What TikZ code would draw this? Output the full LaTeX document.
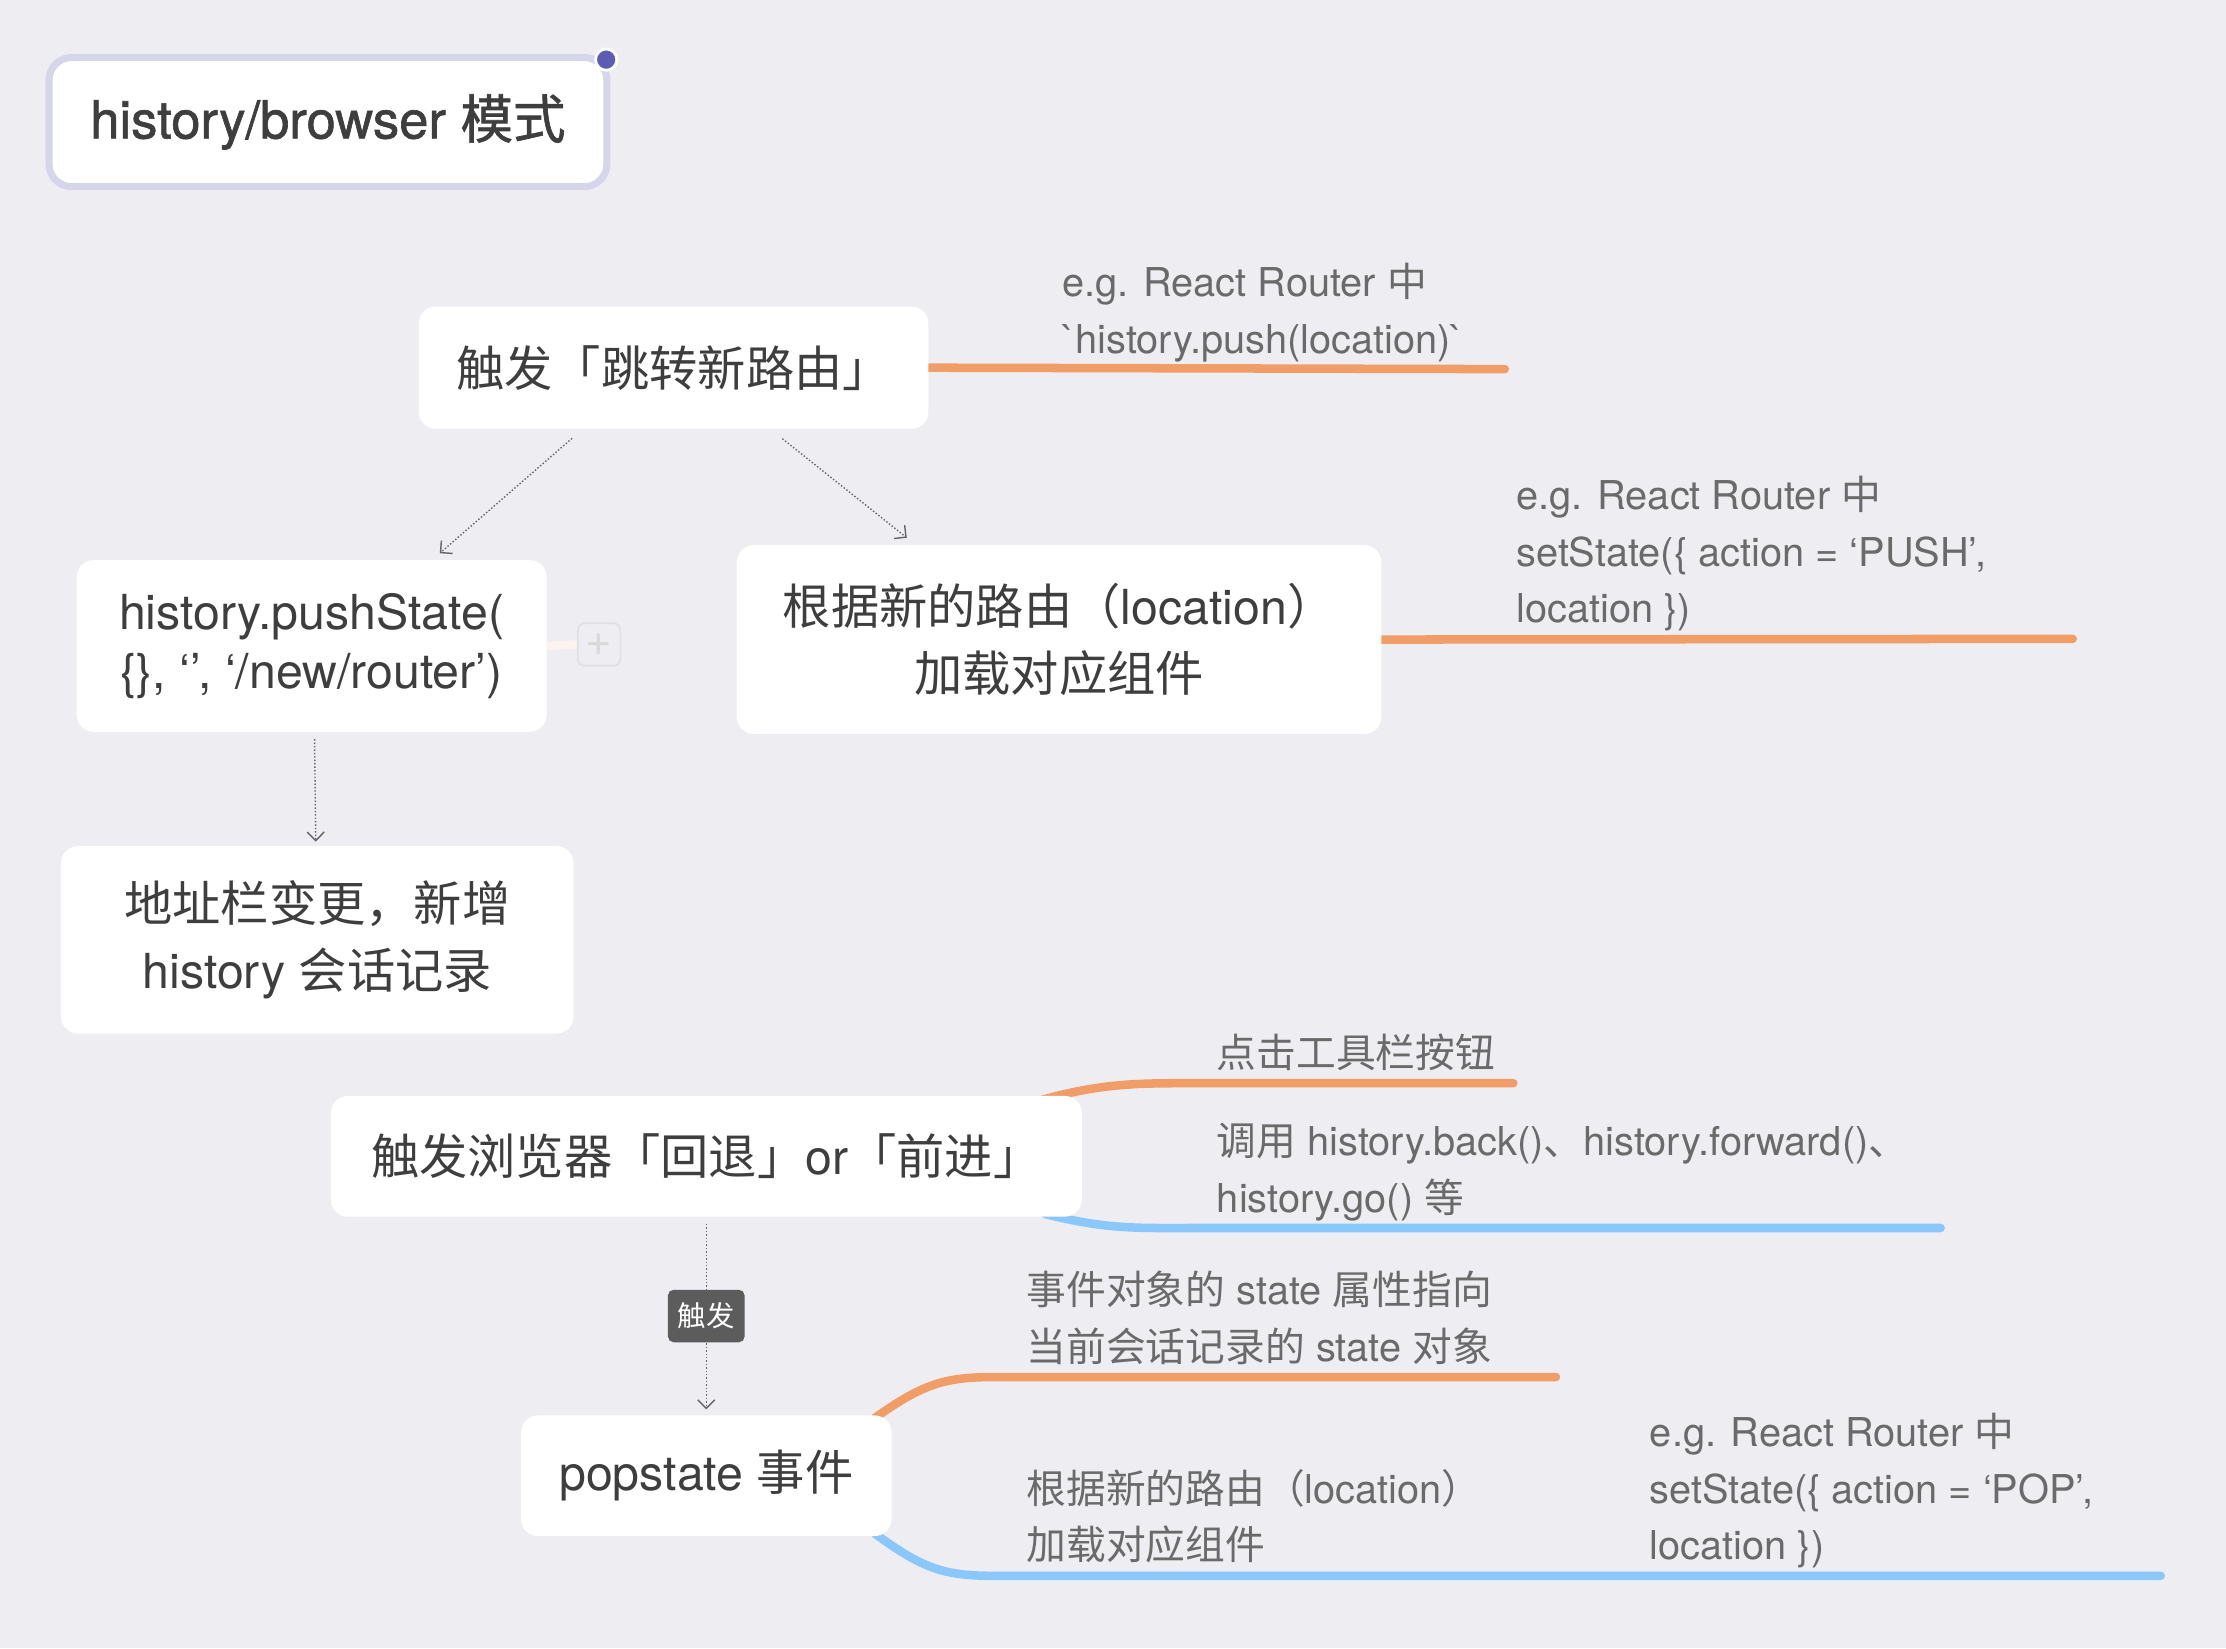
\documentclass[tikz,border=0pt]{standalone}
\usepackage{fontspec}
\setmainfont{TeX Gyre Heros}
\newfontfamily\cjk{Noto Sans CJK SC}
\newfontfamily\titlefont{TeX Gyre Heros}[FakeBold=1.2]
\newfontfamily\titlecjk{Noto Sans CJK SC}[FakeBold=1.2]
\newcommand{\zh}[1]{{\cjk #1}}
\usetikzlibrary{arrows.meta, positioning}
\definecolor{bgcolor}{HTML}{EEEDF2}
\definecolor{topictext}{HTML}{3E3E3E}
\definecolor{labeltext}{HTML}{6A6A6A}
\definecolor{titleborder}{HTML}{D6D6EA}
\definecolor{titledot}{HTML}{5C5CB2}
\definecolor{branchorange}{HTML}{F19D68}
\definecolor{branchblue}{HTML}{8AC7FA}
\definecolor{arrowgray}{HTML}{666666}
\definecolor{tagfill}{HTML}{5C5C5C}
\def\cornerradius{12pt}
\def\branchwidth{6pt}
\def\topicfont{\fontsize{34}{47}\selectfont}
\def\labelfont{\fontsize{28}{40}\selectfont}
\pgfdeclarelayer{backdrop}
\pgfdeclarelayer{branches}
\pgfsetlayers{backdrop,branches,main}
\tikzset{
	% topics
	topic/.style={
		shape=rectangle,
		fill=white,
		rounded corners=\cornerradius,
		align=center,
		text=topictext,
		font=\topicfont,
		inner sep=0pt,
	},
	% central title
	title/.style={
		topic,
		draw=titleborder,
		line width=5pt,
		rounded corners=16pt,
		font=\fontsize{37}{42}\selectfont\titlefont,
	},
	title_dot/.style={
		shape=circle,
		fill=titledot,
		draw=white,
		line width=2pt,
		minimum size=15pt,
		inner sep=0pt,
	},
	% branch labels
	label/.style={
		align=left,
		text=labeltext,
		font=\labelfont,
		inner sep=0pt,
		anchor=south west,
	},
	% branches
	orange_branch/.style={
		draw=branchorange,
		line width=\branchwidth,
		line cap=round,
	},
	blue_branch/.style={
		draw=branchblue,
		line width=\branchwidth,
		line cap=round,
	},
	% collapsed marker
	collapse_box/.style={
		draw=black!12,
		line width=1.2pt,
		rounded corners=5pt,
		minimum size=30pt,
		inner sep=0pt,
		text=black!15,
		font=\fontsize{32}{32}\selectfont,
	},
	% connections
	connection/.style={
		draw=arrowgray,
		line width=1pt,
		dash pattern=on 1pt off 1.4pt,
		-{Straight Barb[length=6pt,width=12pt,line width=1pt]},
	},
	tag/.style={
		fill=tagfill,
		text=white,
		rounded corners=4pt,
		font=\fontsize{20}{24}\selectfont,
		minimum width=54pt,
		minimum height=37pt,
		inner sep=0pt,
	},
}
\begin{document}
\begin{tikzpicture}[x=1pt, y=-1pt]
	\begin{pgfonlayer}{backdrop}
		\path[use as bounding box, fill=bgcolor] (0,0) rectangle (1568,1161);
	\end{pgfonlayer}
	%
	\node[title, minimum width=393pt, minimum height=91pt] (title) at (231,86) {history/browser {\titlecjk 模式}};
	\node[title_dot] (dot) at ([xshift=-3pt,yshift=-4pt]title.north east) {};
	%
	\node[topic, minimum width=359pt, minimum height=86pt] (jump) at (474.5,259) {\zh{触发「跳转新路由」}};
	\node[topic, minimum width=331pt, minimum height=121pt, font=\fontsize{34}{42}\selectfont] (push) at (219.5,455) {history.pushState(\\\{\}, ‘’, ‘/new/router’)};
	\node[collapse_box] (plus) at (422,454) {+};
	\node[topic, minimum width=454pt, minimum height=133pt] (load) at (746,450.5) {\zh{根据新的路由（}location\zh{）}\\\zh{加载对应组件}};
	\node[topic, minimum width=361pt, minimum height=132pt] (addr) at (223.5,662) {\zh{地址栏变更，新增}\\history \zh{会话记录}};
	\node[topic, minimum width=529pt, minimum height=85pt] (nav) at (497.5,814.5) {\zh{触发浏览器「回退」}or\zh{「前进」}};
	\node[topic, minimum width=261pt, minimum height=85pt] (pop) at (497.5,1039.5) {popstate \zh{事件}};
	%
	% branch ends
	\coordinate (jump_end) at (1060,260);
	\coordinate (load_end) at (1460,450);
	\coordinate (click_end) at (1066,763);
	\coordinate (call_end) at (1367,865);
	\coordinate (state_end) at (1096,970);
	\coordinate (render_end) at (1522,1110);
	%
	\node[label] (jump_note) at (748,261) {e.g. React Router \zh{中}\\\textasciigrave history.push(location)\textasciigrave\strut};
	\node[label] (load_note) at (1068,451) {e.g. React Router \zh{中}\\setState(\{ action = ‘PUSH’,\\location \})\strut};
	\node[label] (click_note) at (857,764) {\zh{点击工具栏按钮}\strut};
	\node[label] (call_note) at (857,866) {\zh{调用} history.back()\zh{、}history.forward()\zh{、}\\history.go() \zh{等}\strut};
	\node[label] (state_note) at (723,971) {\zh{事件对象的} state \zh{属性指向}\\\zh{当前会话记录的} state \zh{对象}\strut};
	\node[label] (render_note) at (723,1111) {\zh{根据新的路由（}location\zh{）}\\\zh{加载对应组件}\strut};
	\node[label] (pop_note) at (1162,1111) {e.g. React Router \zh{中}\\setState(\{ action = ‘POP’,\\location \})\strut};
	%
	\begin{pgfonlayer}{branches}
		\draw[orange_branch] (jump.east) -- (jump_end);
		\draw[orange_branch] (load.east) -- (load_end);
		\draw[draw=branchorange!12, line width=\branchwidth] (push.east) -- (plus.west);
		\draw[orange_branch] ([xshift=-32pt,yshift=-4pt]nav.north east) .. controls (775,763) and (800,763) .. (840,763) -- (click_end);
		\draw[blue_branch] ([xshift=-26pt,yshift=2pt]nav.south east) .. controls (780,866) and (800,865) .. (840,865) -- (call_end);
		\draw[orange_branch] ([xshift=-12pt,yshift=-2pt]pop.north east) .. controls (650,975) and (665,970) .. (700,970) -- (state_end);
		\draw[blue_branch] ([xshift=-12pt,yshift=2pt]pop.south east) .. controls (650,1105) and (665,1110) .. (700,1110) -- (render_end);
	\end{pgfonlayer}
	%
	\draw[connection, shorten <=10pt, shorten >=7pt] ([xshift=-64pt]jump.south) -- ([xshift=85pt]push.north);
	\draw[connection, shorten <=11pt, shorten >=8pt] ([xshift=68pt]jump.south) -- ([xshift=-101pt]load.north);
	\draw[connection, shorten <=5pt, shorten >=3pt] ([xshift=2pt]push.south) -- ([xshift=-1pt]addr.north);
	\draw[connection, shorten <=5pt, shorten >=4pt] (nav.south) -- (pop.north) node[tag, midway] (fire) {\zh{触发}};
	%
\end{tikzpicture}
\end{document}
